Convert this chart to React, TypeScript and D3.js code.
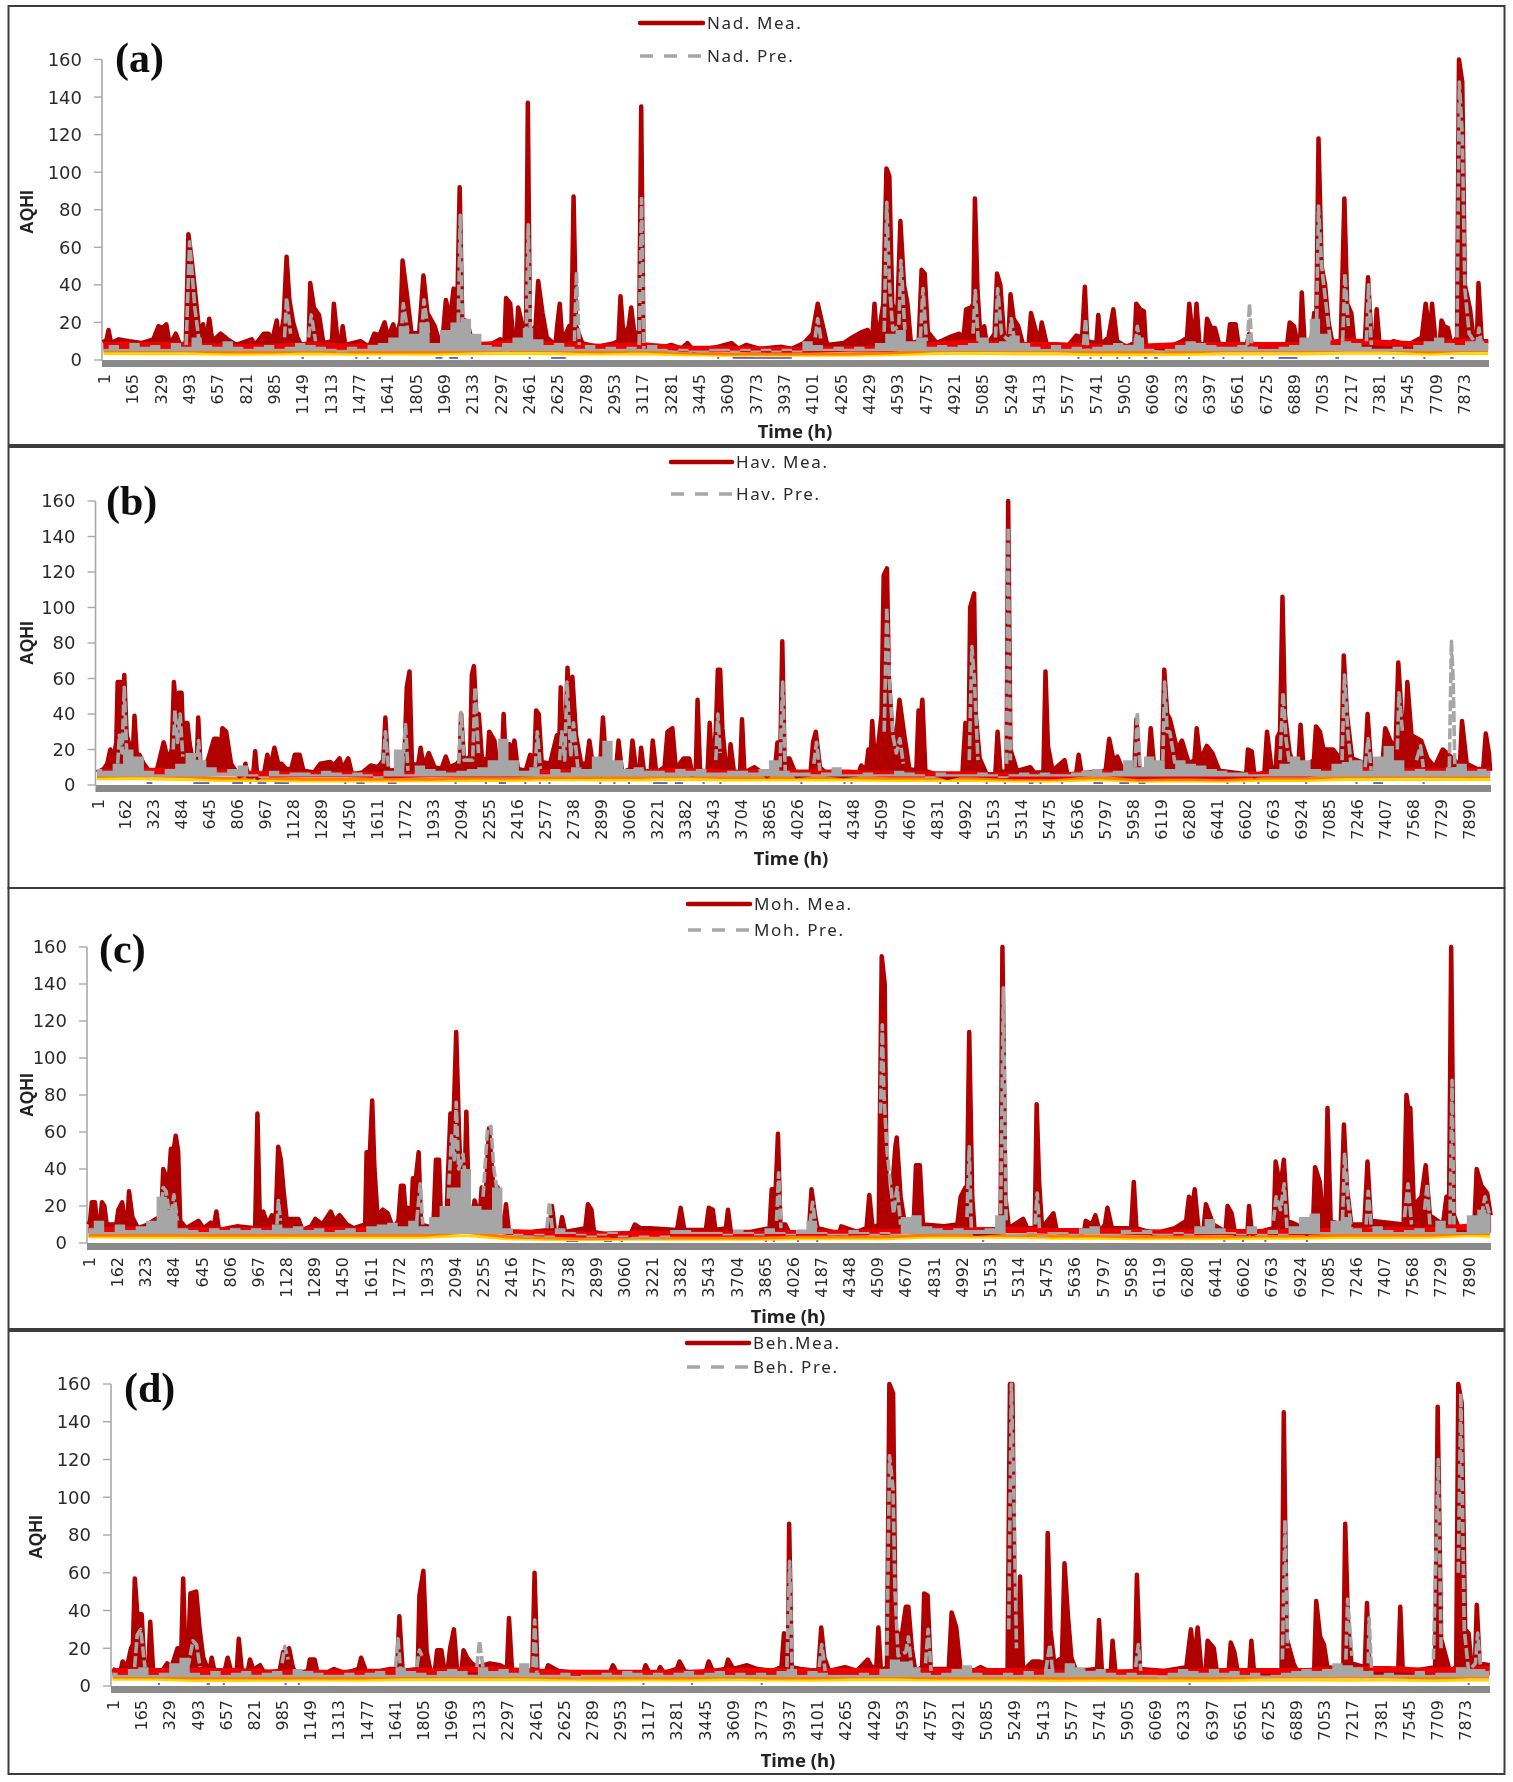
import React from "react";
import * as d3 from "d3";

type P = [number, number];

const yTicks = [0, 20, 40, 60, 80, 100, 120, 140, 160];
const ticks164 = d3.range(1, 7874, 164);
const ticks161 = d3.range(1, 7891, 161);

// ---------- (a) Nad ----------
const nadMea: P[] = [[1,11],[15,9],[30,16],[45,9],[90,11],[150,10],[220,9],[290,11],[320,18],[345,17],[365,19],[385,8],[420,14],[445,8],[478,9],[493,67],[510,55],[530,38],[550,20],[565,8],[578,19],[592,8],[614,22],[632,10],[680,14],[720,11],[770,8],[860,11],[880,8],[930,14],[958,14],[975,9],[1005,21],[1020,9],[1045,22],[1062,55],[1078,32],[1100,20],[1125,12],[1145,8],[1190,9],[1199,41],[1220,28],[1250,24],[1275,9],[1325,10],[1336,30],[1358,10],[1375,9],[1387,18],[1402,8],[1490,10],[1540,7],[1570,14],[1600,13],[1630,20],[1650,12],[1680,19],[1700,12],[1722,21],[1734,53],[1755,38],[1785,15],[1830,14],[1855,45],[1878,25],[1920,18],[1950,9],[1965,10],[1985,32],[2010,22],[2030,38],[2052,32],[2065,92],[2080,22],[2110,20],[2140,8],[2220,7],[2300,11],[2325,10],[2334,33],[2358,30],[2375,12],[2395,12],[2404,28],[2430,18],[2450,16],[2460,137],[2472,14],[2505,18],[2520,42],[2545,25],[2570,12],[2620,8],[2630,18],[2645,30],[2660,10],[2700,18],[2712,12],[2725,87],[2740,18],[2775,9],[2860,7],[2960,9],[2985,10],[2997,34],[3015,12],[3045,18],[3059,28],[3075,16],[3105,10],[3117,135],[3130,7],[3220,6],[3290,8],[3350,6],[3385,9],[3420,5],[3560,7],[3640,9],[3680,6],[3725,8],[3800,6],[3930,7],[3990,6],[4060,9],[4110,14],[4140,30],[4165,20],[4195,8],[4290,9],[4340,12],[4399,15],[4430,16],[4455,10],[4469,30],[4485,9],[4520,30],[4538,102],[4555,98],[4572,30],[4600,22],[4619,74],[4640,40],[4660,30],[4680,9],[4725,10],[4742,48],[4760,46],[4778,15],[4830,9],[4900,12],[4960,14],[4985,12],[5000,27],[5030,28],[5042,30],[5051,86],[5066,37],[5085,9],[5105,18],[5120,8],[5165,14],[5179,46],[5198,40],[5220,12],[5245,12],[5257,35],[5275,22],[5302,18],[5330,8],[5362,8],[5376,25],[5405,15],[5425,10],[5438,20],[5470,7],[5577,6],[5638,13],[5672,12],[5688,39],[5702,10],[5755,9],[5766,24],[5780,8],[5825,12],[5840,20],[5853,27],[5875,10],[5930,7],[5975,9],[5986,30],[6008,27],[6030,26],[6042,7],[6150,6],[6250,10],[6280,12],[6293,30],[6310,15],[6325,14],[6335,30],[6352,8],[6385,8],[6396,22],[6420,17],[6442,17],[6470,7],[6515,7],[6529,19],[6562,19],[6580,7],[6625,8],[6640,14],[6660,7],[6780,8],[6860,8],[6875,20],[6900,18],[6922,8],[6935,8],[6945,36],[6962,8],[7000,10],[7017,25],[7030,24],[7042,118],[7060,50],[7080,40],[7100,20],[7125,8],[7170,8],[7192,86],[7208,30],[7232,25],[7250,8],[7310,8],[7329,44],[7350,9],[7368,8],[7379,27],[7398,6],[7476,10],[7560,8],[7640,12],[7663,30],[7680,18],[7690,15],[7700,30],[7720,10],[7745,10],[7755,21],[7770,18],[7792,17],[7812,8],[7845,12],[7856,160],[7875,148],[7890,40],[7920,27],[7940,12],[7960,10],[7969,41],[7988,10],[8025,10]];
const nadPreBase = [6,8,6,9,7,8,6,9,7,12,8,7,10,7,6,7,8,6,7,9,8,7,6,5,7,6,8,9,12,18,14,20,9,16,20,22,14,8,7,9,12,17,11,8,9,7,6,8,6,7,6,7,6,8,6,5,6,5,5,6,6,5,6,5,6,5,6,5,10,8,6,7,6,7,6,9,14,16,10,12,7,8,7,8,9,12,9,10,13,9,7,6,8,6,7,6,7,8,9,8,12,6,5,6,8,10,9,8,7,7,8,7,6,6,7,8,12,22,14,8,10,9,7,6,6,7,6,8,10,12,9,8,10,10,9];
const nadPrePeaks: P[] = [[480,8],[500,63],[530,28],[555,10],[1050,12],[1062,33],[1085,14],[1190,12],[1205,24],[1230,10],[1725,12],[1738,30],[1765,15],[1845,14],[1858,32],[1885,14],[2055,12],[2068,77],[2082,14],[2450,12],[2462,72],[2476,12],[2730,10],[2742,47],[2758,8],[3105,8],[3119,86],[3132,6],[4125,12],[4140,22],[4160,10],[4525,15],[4540,84],[4556,40],[4575,16],[4610,18],[4622,53],[4645,16],[4735,12],[4750,38],[4770,10],[5040,14],[5053,37],[5070,10],[5170,12],[5183,38],[5205,14],[5250,10],[5262,22],[5280,10],[5680,8],[5692,22],[5705,6],[5980,8],[5992,18],[6010,8],[6630,8],[6642,30],[6655,7],[7030,14],[7042,82],[7060,50],[7085,30],[7110,10],[7182,10],[7195,46],[7215,18],[7320,10],[7332,40],[7348,8],[7845,12],[7858,148],[7875,120],[7890,38],[7915,14],[7960,8],[7972,17],[7985,9]];
const nadRed = [8,8,8,7,7,8,7,7,7,8,9,8,7,8,6,6,5.5,5.5,6,6,8,9,8,8,7,7,8,8,8,8,10,9,8,10,9];
const nadOrange = [4.8,4.8,4.8,4.3,4.3,4.8,4.3,4.3,4.3,4.8,5.3,4.8,4.3,4.8,3.8,3.3,3.3,3.3,3.3,3.8,4.8,5.3,4.8,4.8,4.3,4.3,4.3,4.8,4.8,4.8,5.3,5.3,4.3,5.3,5];
const nadYellow = [3.4,3.3,3.3,3,3.1,3.3,3,3.1,3,3.3,3.5,3.2,3.1,3.3,2.8,2.5,2.5,2.5,2.5,2.7,3.3,3.5,3.1,3.1,2.8,2.8,2.9,3.1,3.1,3.2,3.5,3.5,3,3.5,3.3];
const nadLow: P[] = [[1148,1162],[1460,1472],[1525,1537],[1595,1607],[1925,1965],[2005,2055],[2130,2142],[2465,2477],[2595,2680],[3557,3569],[3647,3770],[3770,3990],[5645,5657],[5715,5727],[5775,5787],[5870,5882],[5940,5952],[6030,6050],[6090,6110],[6285,6297],[6485,6497],[6595,6607],[6710,6722],[6810,6920],[7140,7160],[7390,7402],[7470,7482],[7650,7662],[7805,7825]];

// ---------- (b) Hav ----------
const havMea: P[] = [[1,7],[40,9],[60,12],[78,20],[95,14],[112,24],[120,58],[138,58],[150,30],[158,62],[172,28],[195,20],[205,14],[217,39],[232,14],[245,17],[270,12],[300,8],[345,8],[385,24],[410,14],[432,20],[444,58],[458,40],[472,52],[488,52],[494,35],[522,35],[535,23],[556,12],[575,10],[584,38],[598,9],[640,14],[675,26],[695,26],[708,14],[723,32],[745,30],[773,12],[820,5],[845,6],[856,12],[870,5],[900,5],[912,19],[925,4],[962,6],[982,17],[1000,10],[1023,21],[1045,12],[1064,12],[1090,9],[1120,9],[1140,17],[1168,17],[1190,8],[1250,7],[1287,12],[1343,13],[1365,11],[1398,15],[1415,9],[1448,15],[1470,6],[1530,7],[1578,11],[1620,10],[1650,14],[1662,38],[1678,8],[1770,9],[1785,55],[1801,64],[1815,12],[1850,11],[1865,21],[1882,10],[1912,18],[1945,10],[1985,9],[2010,16],[2030,10],[2075,12],[2090,14],[2098,40],[2115,14],[2150,16],[2160,62],[2172,67],[2188,35],[2200,40],[2218,15],[2250,14],[2260,30],[2290,25],[2310,9],[2332,10],[2343,40],[2358,9],[2377,23],[2395,18],[2405,25],[2425,9],[2470,8],[2496,17],[2520,12],[2530,42],[2545,40],[2562,13],[2610,12],[2650,28],[2665,29],[2672,55],[2685,15],[2700,30],[2711,66],[2728,28],[2739,61],[2760,28],[2790,12],[2820,12],[2837,25],[2858,10],[2900,12],[2915,38],[2935,9],[2990,8],[3005,25],[3025,7],[3072,9],[3085,25],[3105,9],[3125,8],[3135,21],[3152,7],[3190,8],[3202,25],[3222,7],[3270,10],[3287,30],[3315,32],[3335,9],[3380,15],[3412,15],[3430,6],[3450,8],[3460,48],[3475,7],[3518,8],[3530,35],[3545,8],[3565,30],[3577,65],[3590,65],[3603,32],[3625,8],[3640,9],[3650,23],[3670,7],[3705,7],[3716,37],[3730,7],[3788,10],[3860,5],[3905,8],[3920,24],[3938,24],[3948,81],[3961,15],[3989,15],[4030,5],[4110,6],[4125,24],[4141,30],[4165,10],[4205,6],[4300,5],[4385,6],[4403,11],[4430,8],[4444,20],[4455,10],[4466,36],[4485,8],[4520,40],[4532,118],[4551,122],[4562,60],[4582,30],[4605,28],[4623,48],[4651,28],[4680,9],[4720,8],[4733,42],[4740,30],[4755,48],[4772,8],[4830,6],[4900,4],[4985,6],[5003,35],[5020,10],[5030,100],[5053,108],[5062,40],[5085,15],[5125,6],[5175,6],[5188,30],[5205,7],[5240,8],[5249,160],[5262,20],[5300,8],[5376,10],[5400,7],[5452,7],[5464,64],[5478,22],[5505,8],[5574,14],[5590,6],[5640,6],[5655,17],[5672,6],[5810,8],[5831,26],[5860,12],[5878,16],[5915,7],[5975,7],[5988,37],[6005,8],[6055,9],[6070,32],[6090,10],[6135,12],[6148,65],[6165,40],[6181,37],[6222,20],[6250,25],[6290,12],[6322,14],[6335,32],[6355,14],[6393,22],[6425,18],[6465,8],[6620,6],[6630,20],[6652,19],[6668,5],[6725,7],[6740,30],[6765,10],[6790,9],[6800,27],[6815,30],[6829,106],[6843,40],[6870,18],[6900,10],[6920,10],[6933,34],[6950,10],[7010,14],[7022,33],[7045,30],[7065,20],[7120,20],[7168,14],[7182,73],[7200,40],[7230,15],[7305,12],[7319,40],[7340,10],[7405,12],[7421,32],[7450,25],[7480,20],[7496,69],[7518,35],[7535,22],[7548,58],[7572,28],[7628,25],[7664,15],[7705,10],[7752,20],[7820,14],[7850,10],[7863,36],[7890,12],[7950,9],[7985,9],[8000,29],[8018,18],[8025,8]];
const havPreBase = [9,8,12,20,16,8,6,9,12,18,14,10,7,9,11,6,5,8,6,7,7,6,8,7,6,7,6,5,8,20,6,11,9,8,7,8,9,10,14,26,14,8,10,6,9,7,10,9,16,25,14,9,10,8,8,7,9,8,9,7,7,8,8,7,9,14,8,7,7,6,7,10,6,6,7,6,6,8,7,6,5,7,6,6,6,7,6,5,6,7,6,7,6,6,7,8,9,7,8,14,10,16,14,9,14,12,11,9,8,7,7,6,6,9,12,16,14,9,8,12,13,14,8,16,22,14,8,9,8,8,10,12,8,9,8];
const havPrePeaks: P[] = [[120,12],[130,28],[145,18],[158,55],[172,18],[440,20],[450,42],[465,24],[480,40],[495,16],[575,8],[586,25],[600,8],[1650,12],[1662,30],[1680,9],[1760,10],[1778,34],[1792,8],[2085,12],[2098,41],[2115,14],[2165,14],[2178,55],[2198,18],[2525,10],[2537,30],[2555,9],[2665,14],[2678,30],[2695,14],[2708,58],[2730,16],[2745,35],[2770,10],[3565,14],[3577,40],[3590,18],[3935,10],[3950,58],[3965,8],[4130,12],[4145,24],[4165,8],[4535,30],[4550,100],[4565,58],[4585,28],[4605,18],[4625,26],[4645,12],[5025,14],[5040,78],[5055,58],[5075,14],[5240,12],[5249,145],[5262,14],[5980,10],[5993,41],[6010,8],[6140,14],[6150,58],[6165,30],[6180,30],[6210,12],[6815,14],[6832,52],[6850,25],[6870,12],[7172,14],[7186,62],[7205,30],[7225,10],[7305,10],[7322,26],[7340,8],[7490,20],[7500,52],[7520,30],[7600,14],[7625,22],[7640,10],[7790,10],[7802,81],[7812,60],[7822,9]];
const havRed = [7,8,8,7,6,6,6,5.5,6,6,6,7,7,7,8,7,7,7,7,6,6,6,5,5,7,5,5.5,5,6,6,8,8,8,8,8];
const havOrange = [4.8,5.3,4.8,3.8,3.8,3.3,3.3,3.3,3.3,3.8,3.8,4.3,4.3,4.3,4.8,4.3,4.3,4.3,4.3,3.8,3.8,3.8,3.3,3.3,4.3,2.9,3.3,2.9,3.8,3.8,4.8,4.8,4.8,4.8,4.8];
const havYellow = [3.4,3.4,3,2.5,2.5,2.2,2.2,2.2,2.3,2.5,2.5,3,2.8,2.8,3,2.8,2.8,2.8,2.8,2.5,2.5,2.5,2.2,2.2,2.9,2,2.2,2,2.5,2.5,3.1,3,3,3.1,3.1];
const havLow: P[] = [[287,320],[556,648],[780,842],[878,890],[926,976],[1023,1106],[1425,1437],[1495,1543],[1676,1726],[2060,2072],[2235,2247],[2315,2356],[2462,2474],[2546,2558],[2601,2613],[2894,2906],[2975,2987],[3059,3071],[3204,3287],[3329,3376],[3489,3501],[3586,3598],[4052,4064],[4300,4312],[4341,4353],[4852,4864],[4954,4966],[5119,5131],[5224,5236],[5368,5395],[5430,5442],[5554,5566],[5740,5795],[5890,5945],[6000,6040],[6506,6518],[6602,6614],[6684,6696],[6960,6972],[7250,7262],[7352,7408],[7636,7648]];

// ---------- (c) Moh ----------
const mohMea: P[] = [[1,10],[10,12],[20,22],[38,22],[50,10],[68,12],[78,22],[92,20],[105,10],[160,10],[172,18],[194,22],[212,10],[224,12],[233,28],[252,14],[285,8],[340,10],[388,13],[410,14],[422,25],[429,40],[448,35],[458,30],[473,51],[490,51],[500,58],[514,50],[526,12],[560,8],[630,12],[660,8],[700,11],[720,10],[733,17],[748,7],[850,9],[955,8],[968,70],[982,12],[1001,17],[1025,10],[1051,15],[1072,12],[1087,52],[1102,45],[1117,29],[1135,13],[1203,13],[1225,7],[1275,9],[1300,13],[1340,10],[1388,17],[1410,12],[1438,15],[1480,10],[1520,8],[1585,10],[1593,49],[1612,49],[1625,77],[1638,40],[1655,15],[1686,18],[1714,16],[1745,8],[1775,12],[1790,31],[1805,31],[1818,14],[1830,19],[1848,12],[1858,35],[1875,35],[1891,49],[1905,10],[1975,8],[1990,45],[2008,45],[2020,8],[2050,10],[2059,37],[2073,70],[2092,70],[2106,114],[2122,60],[2135,30],[2150,14],[2164,71],[2180,15],[2200,14],[2211,23],[2240,14],[2252,30],[2275,25],[2294,62],[2318,30],[2344,30],[2362,10],[2380,10],[2391,21],[2408,6],[2530,6],[2640,7],[2654,20],[2672,6],[2700,7],[2712,14],[2730,6],[2845,8],[2860,21],[2880,18],[2895,6],[3000,4],[3100,4],[3129,10],[3160,8],[3215,8],[3370,7],[3391,19],[3412,7],[3535,7],[3552,19],[3575,18],[3590,7],[3650,8],[3662,18],[3678,6],[3790,6],[3900,8],[3912,29],[3935,29],[3948,59],[3962,10],[3990,10],[4015,5],[4125,6],[4140,29],[4160,15],[4175,8],[4300,5],[4310,9],[4400,6],[4455,8],[4471,26],[4490,8],[4525,10],[4542,155],[4559,140],[4570,30],[4595,20],[4620,52],[4628,57],[4650,25],[4678,8],[4725,10],[4738,42],[4760,42],[4778,10],[4900,9],[4975,10],[4994,25],[5021,30],[5030,25],[5043,114],[5060,25],[5075,5],[5222,6],[5233,160],[5250,25],[5270,8],[5352,13],[5375,8],[5418,8],[5429,75],[5443,33],[5460,8],[5525,16],[5545,6],[5700,6],[5710,12],[5745,10],[5765,15],[5790,6],[5820,10],[5834,19],[5860,8],[5970,8],[5985,33],[6000,8],[6100,5],[6220,8],[6285,12],[6301,25],[6320,20],[6334,29],[6355,8],[6385,8],[6398,21],[6440,10],[6510,6],[6522,20],[6545,16],[6565,5],[6635,5],[6645,20],[6662,5],[6785,8],[6797,44],[6825,30],[6844,45],[6865,12],[6915,10],[6975,5],[7010,8],[7023,41],[7050,33],[7070,12],[7082,12],[7094,73],[7112,12],[7170,10],[7188,64],[7205,30],[7230,10],[7305,10],[7323,44],[7342,12],[7530,10],[7546,80],[7560,70],[7568,73],[7588,20],[7632,25],[7656,42],[7680,15],[7755,10],[7775,25],[7790,20],[7802,160],[7818,15],[7845,8],[7935,10],[7948,40],[7975,31],[8008,27],[8028,15]];
const mohPreBase = [8,12,6,10,7,9,12,25,18,8,7,6,8,7,8,7,8,7,10,8,9,7,8,6,7,8,6,9,10,11,9,12,9,14,20,30,40,20,18,30,8,5,4,5,4,8,6,5,4,5,6,4,3,4,3,4,7,7,6,6,6,5,7,6,5,8,6,5,7,12,6,5,5,7,6,5,6,5,14,15,9,8,7,8,7,7,8,15,5,5,6,4,6,6,5,8,9,5,5,7,6,7,5,5,6,5,9,13,8,6,5,9,5,7,5,9,14,16,6,12,14,8,6,9,7,6,7,8,6,12,8,6,15,18,16];
const mohPrePeaks: P[] = [[415,14],[428,30],[445,28],[470,12],[490,26],[510,12],[1080,10],[1088,23],[1100,12],[1880,12],[1900,32],[1915,10],[2060,24],[2080,58],[2095,45],[2106,76],[2120,40],[2145,48],[2165,28],[2260,25],[2285,62],[2305,63],[2322,40],[2345,25],[2625,8],[2640,22],[2655,8],[3940,12],[3952,38],[3965,8],[4132,10],[4146,22],[4165,8],[4535,70],[4545,118],[4555,80],[4572,50],[4610,16],[4630,30],[4650,10],[5030,14],[5043,52],[5055,8],[5222,8],[5238,138],[5254,12],[5420,10],[5432,27],[5445,8],[6785,12],[6800,25],[6825,18],[6846,32],[6862,8],[7180,12],[7192,48],[7212,22],[7230,8],[7315,10],[7327,28],[7345,8],[7535,14],[7555,32],[7575,10],[7650,18],[7665,32],[7680,10],[7795,10],[7807,88],[7818,10],[7975,14],[7995,25],[8020,16]];
const mohRed = [7,7,7,7,7,7,7,7,7,9,6,5,4.5,5,5,5,5,5.5,5.5,6,7,7,7,6.5,6.5,6,5.5,6,6,6,7,7,7,9,9];
const mohOrange = [4.3,4.3,4.3,4.3,4.3,4.3,4.3,4.3,4.3,5.8,3.3,2.8,2.3,2.8,2.8,2.8,2.8,3.3,3.3,3.3,4.3,4.3,4.3,3.8,3.8,3.3,3.3,3.3,3.8,3.8,4.3,4.3,4.3,5.3,5];
const mohYellow = [3.3,3.1,3.1,2.9,2.9,3,3,3.1,3.1,4,2.2,1.9,1.8,2,2,2,2,2.3,2.3,2.3,3.1,3.1,3.1,2.5,2.5,2.3,2.2,2.3,2.5,2.5,2.9,2.9,3.1,4,3.5];
const mohLow: P[] = [[2736,2805],[2952,2999],[3048,3060],[3873,3885],[3919,3931],[4057,4069],[4167,4179],[5117,5129],[6497,6509],[6604,6616],[6732,6744],[6970,6982]];

// ---------- (d) Beh ----------
const behMea: P[] = [[1,9],[25,8],[48,8],[60,13],[85,10],[109,20],[120,22],[131,57],[146,38],[171,38],[186,12],[210,10],[221,34],[238,8],[290,8],[320,12],[345,10],[380,20],[400,12],[413,57],[428,10],[440,12],[455,49],[489,50],[509,30],[530,15],[565,7],[579,15],[600,6],[655,8],[672,15],[695,7],[725,8],[737,25],[755,8],[790,8],[802,14],[825,8],[845,10],[861,11],[885,7],[975,8],[996,18],[1005,12],[1030,20],[1052,10],[1072,6],[1140,8],[1151,14],[1179,14],[1196,7],[1250,7],[1292,9],[1350,7],[1400,8],[1435,9],[1450,15],[1478,8],[1560,8],[1620,9],[1660,9],[1673,37],[1692,8],[1780,9],[1790,48],[1813,61],[1832,18],[1855,8],[1880,8],[1893,19],[1918,19],[1936,8],[1955,9],[1969,20],[1991,30],[2010,8],[2035,8],[2047,19],[2068,15],[2095,12],[2125,10],[2200,12],[2260,11],[2300,9],[2312,36],[2330,8],[2448,8],[2461,60],[2478,7],[2525,7],[2540,11],[2600,8],[2700,7],[2820,6],[2900,7],[2918,11],[2940,7],[3095,7],[3108,11],[3130,7],[3180,7],[3193,10],[3215,7],[3290,9],[3306,13],[3335,8],[3400,6],[3460,8],[3476,13],[3500,8],[3575,9],[3589,14],[3620,9],[3700,11],[3760,9],[3850,8],[3900,10],[3915,28],[3930,10],[3938,10],[3945,86],[3960,10],[4010,9],[4115,8],[4132,31],[4150,15],[4178,8],[4270,10],[4340,8],[4403,14],[4425,10],[4453,10],[4465,31],[4480,8],[4515,10],[4529,160],[4551,155],[4565,30],[4598,25],[4625,42],[4640,42],[4660,20],[4680,8],[4720,10],[4732,49],[4752,48],[4770,9],[4875,9],[4892,39],[4919,31],[4945,8],[5000,7],[5059,10],[5150,6],[5218,8],[5232,160],[5246,160],[5262,15],[5280,15],[5291,58],[5308,8],[5365,13],[5400,13],[5440,12],[5452,81],[5468,30],[5490,12],[5535,15],[5550,65],[5570,37],[5590,15],[5618,8],[5740,9],[5751,35],[5768,8],[5820,8],[5830,24],[5848,6],[5960,8],[5972,59],[5990,9],[6130,8],[6260,10],[6273,20],[6287,30],[6305,12],[6326,31],[6348,8],[6372,8],[6384,24],[6420,20],[6440,6],[6505,6],[6519,23],[6540,18],[6562,6],[6628,7],[6639,24],[6655,7],[6815,8],[6828,145],[6845,25],[6885,12],[6915,6],[7005,8],[7017,45],[7040,26],[7062,22],[7082,10],[7175,9],[7186,86],[7202,35],[7222,12],[7300,10],[7313,44],[7328,8],[7495,8],[7507,42],[7522,7],[7710,10],[7725,148],[7745,25],[7795,8],[7833,10],[7845,160],[7865,150],[7885,30],[7905,28],[7925,8],[7942,10],[7953,43],[7970,12],[8028,11]];
const behPreBase = [7,6,9,10,6,7,12,15,7,6,8,6,7,8,6,7,8,6,9,8,7,6,6,7,6,7,8,6,10,8,7,6,8,9,8,6,10,8,9,7,12,7,6,6,7,5,6,6,7,6,8,7,6,7,6,7,8,6,7,8,6,7,6,7,6,8,9,6,8,7,6,6,6,7,6,9,14,13,10,7,6,7,9,11,7,6,6,7,6,8,6,9,7,12,10,8,9,7,6,7,6,6,5,7,9,8,7,9,7,8,6,7,5,6,7,8,9,8,9,12,11,10,8,6,7,6,6,8,6,7,7,10,9,9,8];
const behPrePeaks: P[] = [[130,10],[145,27],[165,30],[190,10],[420,10],[445,12],[470,24],[490,22],[512,10],[990,12],[1005,21],[1025,14],[1650,10],[1665,25],[1680,9],[1775,10],[1790,19],[1805,16],[2125,10],[2140,24],[2160,10],[2452,10],[2462,35],[2474,7],[3932,10],[3948,66],[3962,9],[4120,10],[4135,22],[4155,8],[4515,16],[4530,122],[4550,105],[4562,50],[4580,16],[4625,18],[4640,26],[4660,8],[4740,12],[4755,30],[4772,8],[5225,30],[5240,160],[5255,100],[5270,20],[5440,8],[5465,22],[5480,8],[5965,10],[5980,22],[5995,8],[6820,14],[6835,88],[6850,20],[7190,14],[7200,46],[7225,16],[7320,12],[7325,36],[7340,8],[7700,14],[7728,120],[7745,20],[7845,60],[7860,155],[7880,30],[7905,8],[7945,12],[7958,28],[7975,10]];
const behRed = [8,8,8,8,7,7,7,8,8,9,8,7,7,7,7,8,8,8,8,8,8,8,8,7,7,7.5,7.5,8,8,8,9,9,8,9,9];
const behOrange = [4.8,4.8,4.3,4.3,4.3,4.3,4.3,4.8,4.8,4.8,4.8,4.3,4.3,4.3,4.3,4.8,4.3,4.3,4.8,4.8,4.3,4.3,4.3,4.1,4.3,4.3,4.3,4.3,4.8,4.8,4.8,4.8,4.3,4.8,4.8];
const behYellow = [3.5,3.5,2.9,2.9,3,3.1,3,3.3,3.2,3.3,3.3,3.1,3,3.1,3,3.2,3.1,3,3.3,3.3,3.1,3.1,3.1,2.9,3,2.9,2.9,2.9,3.1,3.1,3,3.1,2.9,3.1,3.1];
const behLow: P[] = [[266,278],[550,568],[644,656],[1004,1016],[1081,1093],[3090,3102],[3372,3384],[3779,3791],[6273,6285],[7900,7912]];

const gridStep = 60;
const coarseStep = 240;
const lastHour = 8025;

type PanelDef = {
  tag: string; left: number; right: number; y0: number; y160: number; top: number; bottom: number;
  ticks: number[]; mea: P[]; preBase: number[]; prePeaks: P[]; red: number[]; orange: number[]; yellow: number[]; low: P[];
  legY: [number, number]; legX: [number, number]; names: [string, string];
  lx: number; ly: number; aqX: number; aqY: number; timeX: number; timeY: number;
};

const panels: PanelDef[] = [
  { tag: "(a)", left: 102, right: 1489, y0: 360, y160: 59.5, top: 6, bottom: 445, ticks: ticks164, mea: nadMea, preBase: nadPreBase, prePeaks: nadPrePeaks, red: nadRed, orange: nadOrange, yellow: nadYellow, low: nadLow, legY: [23, 56], legX: [640, 703], names: ["Nad. Mea.", "Nad. Pre."], lx: 115, ly: 72, aqX: 27, aqY: 212, timeX: 795, timeY: 431 },
  { tag: "(b)", left: 95.5, right: 1491, y0: 785, y160: 501, top: 447, bottom: 888, ticks: ticks161, mea: havMea, preBase: havPreBase, prePeaks: havPrePeaks, red: havRed, orange: havOrange, yellow: havYellow, low: havLow, legY: [462, 494], legX: [671, 732], names: ["Hav. Mea.", "Hav. Pre."], lx: 106, ly: 515, aqX: 27, aqY: 643, timeX: 791, timeY: 858 },
  { tag: "(c)", left: 87, right: 1491, y0: 1243, y160: 947, top: 888, bottom: 1329, ticks: ticks161, mea: mohMea, preBase: mohPreBase, prePeaks: mohPrePeaks, red: mohRed, orange: mohOrange, yellow: mohYellow, low: mohLow, legY: [904, 930], legX: [688, 750], names: ["Moh. Mea.", "Moh. Pre."], lx: 99, ly: 963, aqX: 27, aqY: 1095, timeX: 788, timeY: 1316 },
  { tag: "(d)", left: 111, right: 1490, y0: 1686, y160: 1384, top: 1331, bottom: 1774, ticks: ticks164, mea: behMea, preBase: behPreBase, prePeaks: behPrePeaks, red: behRed, orange: behOrange, yellow: behYellow, low: behLow, legY: [1343, 1367], legX: [687, 749], names: ["Beh.Mea.", "Beh. Pre."], lx: 124, ly: 1402, aqX: 36, aqY: 1537, timeX: 798, timeY: 1760 },
];

const DARK = "#b00000", RED = "#ee0000", ORANGE = "#ff7a00", YELLOW = "#ffd500", GRAY = "#a6a6a6", BLUE = "#4347b8", BAND = "#8a8a8a", AXIS = "#a9a9a9", INK = "#2b2b2b";
const sans = "'DejaVu Sans', Verdana, sans-serif";

// Splits a sorted list into runs wherever two neighbours are far apart, so that isolated peaks are not joined up.
function runs(points: P[], gap: number): P[][] {
  const sorted = [...points].sort((a, b) => a[0] - b[0]);
  const out: P[][] = [];
  sorted.forEach((pt, i) => {
    if (i === 0 || pt[0] - sorted[i - 1][0] > gap) out.push([pt]);
    else out[out.length - 1].push(pt);
  });
  return out;
}

function Panel({ p }: { p: PanelDef }) {
  const axisX = d3.scaleLinear().domain([1, 8030]).range([p.left, p.right]);
  const x = d3.scaleLinear().domain([1, 8030]).range([p.left + 1.5, p.right]);
  const y = d3.scaleLinear().domain([0, 160]).range([p.y0, p.y160]);
  const line = d3.line<P>().x((d) => x(d[0])).y((d) => y(d[1]));
  const onGrid = (vals: number[], step: number): P[] => vals.map((v, i) => [Math.min(1 + i * step, lastHour), v]);
  const baseGrid = onGrid(p.preBase, gridStep);
  const mea = [...p.mea].sort((a, b) => a[0] - b[0]);
  const meaArea = d3.area<P>().x((d) => x(d[0])).y0(y(5.5)).y1((d) => y(d[1]));
  const preMass = d3.area<P>().curve(d3.curveStep).x((d) => x(d[0])).y0((d) => y(Math.min(4.8, d[1] - 1))).y1((d) => y(d[1]));
  const [ly1, ly2] = p.legY;
  return (
    <g>
      <rect x={8.5} y={p.top} width={1496} height={p.bottom - p.top} fill="none" stroke="#3c3c3c" strokeWidth={2} />
      <rect x={p.left} y={p.y0} width={p.right - p.left} height={7} fill={BAND} />
      <line x1={p.left} x2={p.left} y1={p.y160} y2={p.y0} stroke={AXIS} strokeWidth={1.6} />
      {yTicks.map((t) => (
        <g key={t}>
          <line x1={p.left - 8} x2={p.left} y1={y(t)} y2={y(t)} stroke={AXIS} strokeWidth={1.4} />
          <text x={p.left - 20} y={y(t)} dy="0.36em" textAnchor="end" fontFamily={sans} fontSize={18} fill={INK}>{t}</text>
        </g>
      ))}
      {p.ticks.map((t) => (
        <text key={t} transform={`translate(${axisX(t) + 8},${p.y0 + 14}) rotate(-90)`} textAnchor="end" fontFamily={sans} fontSize={16} fill={INK}>{t}</text>
      ))}
      {p.low.map(([a, b], i) => (
        <line key={i} x1={x(a)} x2={x(b)} y1={y(1.1)} y2={y(1.1)} stroke={BLUE} strokeWidth={1.6} />
      ))}
      <path d={line(onGrid(p.yellow, coarseStep)) || ""} fill="none" stroke={YELLOW} strokeWidth={2.8} />
      <path d={line(onGrid(p.orange, coarseStep)) || ""} fill="none" stroke={ORANGE} strokeWidth={3.2} />
      <path d={meaArea(mea) || ""} fill={DARK} />
      <path d={line(mea) || ""} fill="none" stroke={DARK} strokeWidth={4.5} strokeLinejoin="round" />
      <path d={line(onGrid(p.red, coarseStep)) || ""} fill="none" stroke={RED} strokeWidth={6} />
      <path d={preMass(baseGrid) || ""} fill={GRAY} />
      {runs(p.prePeaks, 60).map((r, i) => (
        <path key={i} d={line(r) || ""} fill="none" stroke={GRAY} strokeWidth={3.6} strokeDasharray="11 3" strokeLinejoin="round" />
      ))}
      <line x1={p.legX[0]} x2={p.legX[1]} y1={ly1} y2={ly1} stroke={DARK} strokeWidth={4.5} strokeLinecap="round" />
      <line x1={p.legX[0]} x2={p.legX[1]} y1={ly2} y2={ly2} stroke={GRAY} strokeWidth={3.5} strokeDasharray="13 11" />
      {p.names.map((n, i) => (
        <text key={n} x={p.legX[1] + 4} y={p.legY[i]} dy="0.36em" fontFamily="'Noto Sans', sans-serif" fontSize={17} letterSpacing={1.6} fill={INK}>{n}</text>
      ))}
      <text x={p.lx} y={p.ly} fontFamily="'Liberation Serif', serif" fontWeight="bold" fontSize={42} fill="#111">{p.tag}</text>
      <text transform={`translate(${p.aqX},${p.aqY}) rotate(-90)`} textAnchor="middle" dy="0.36em" fontFamily="'Liberation Sans', sans-serif" fontWeight="bold" fontSize={17.5} fill="#222">AQHI</text>
      <text x={p.timeX} y={p.timeY} textAnchor="middle" dy="0.36em" fontFamily="'Noto Sans', sans-serif" fontWeight="bold" fontSize={18.5} fill="#222">Time (h)</text>
    </g>
  );
}

export default function App() {
  return (
    <svg width={1513} height={1782} viewBox="0 0 1513 1782" style={{ position: "absolute", left: 0, top: 0, display: "block", background: "#fff" }}>
      <defs>
        <filter id="soft" x="0" y="0" width="100%" height="100%" filterUnits="objectBoundingBox">
          <feGaussianBlur stdDeviation="0.55" />
        </filter>
      </defs>
      <g filter="url(#soft)">
        <rect x={0} y={0} width={1513} height={1782} fill="#fff" />
        {panels.map((p) => <Panel key={p.tag} p={p} />)}
      </g>
    </svg>
  );
}
